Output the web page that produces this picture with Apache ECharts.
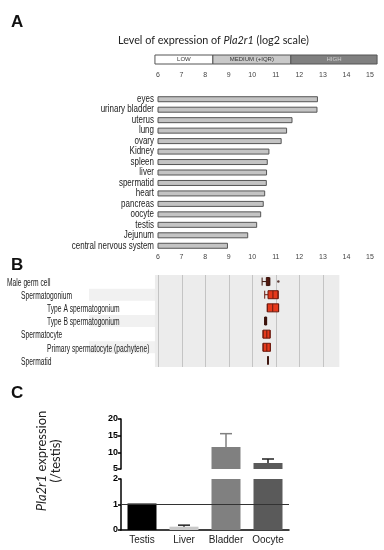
<!DOCTYPE html>
<html><head><meta charset="utf-8">
<script src="https://cdn.jsdelivr.net/npm/echarts@6/dist/echarts.min.js"></script>
<style>html,body{margin:0;padding:0;background:#fff}#c{width:384px;height:550px}</style>
</head><body><div id="c"></div>
<script>
// ---- Panel A data ----
const tissues = ['eyes','urinary bladder','uterus','lung','ovary','Kidney','spleen','liver','spermatid','heart','pancreas','oocyte','testis','Jejunum','central nervous system'];
const tissueLevels = [12.79,12.77,11.71,11.48,11.25,10.73,10.66,10.63,10.62,10.55,10.49,10.38,10.21,9.83,8.97];
const levelTicks = [6,7,8,9,10,11,12,13,14,15];
const levelBandNames = ['LOW','MEDIUM (+IQR)','HIGH'];
const levelBandEdges = [5.87, 8.33, 11.64, 15.3];

// ---- Panel B data ----
const cellTypes = ['Male germ cell','Spermatogonium','Type A spermatogonium','Type B spermatogonium','Spermatocyte','Primary spermatocyte (pachytene)','Spermatid'];
const cellLevel = [0,1,2,2,1,2,1];
const cellBoxes = [
  [10.42,10.60,10.67,10.73,10.75],
  [10.53,10.67,10.88,11.10,11.10],
  [10.64,10.64,10.87,11.12,11.12],
  [10.53,10.53,10.57,10.61,10.61],
  [10.46,10.46,10.62,10.76,10.76],
  [10.46,10.46,10.62,10.77,10.77],
  [10.67,10.67,10.67,10.67,10.67]
];
const cellOutliers = [[11.11, 0]];
const cellDark = [true,false,false,true,false,false,true];
const cellShaded = [false,true,false,true,false,true,false];
const gridValues = [6,7,8,9,10,11,12,13];
const plotBgRange = [5.87, 13.7];

// ---- Panel C data ----
const qpcrSamples = ['Testis','Liver','Bladder','Oocyte'];
const qpcrMean = [1.04, 0.13, 11.6, 6.8];
const qpcrUpper = [null, 0.19, 15.6, 8.0];
const qpcrColors = ['#000000','#c9c9c9','#808080','#5a5a5a'];
const qpcrErrColors = ['#000','#222','#808080','#222'];
const topTicks = [5,10,15,20];
const bottomTicks = [0,1,2];
const breakLow = 2, breakHigh = 5;

const chart = echarts.init(document.getElementById('c'), null, {renderer:'canvas'});

function errRender(params, api){
  const x = api.value(0);
  const lo = api.coord([x, api.value(1)]);
  const hi = api.coord([x, api.value(2)]);
  const hw = 6;
  const col = qpcrErrColors[x];
  return {type:'group', children:[
    {type:'line', shape:{x1:lo[0],y1:lo[1],x2:hi[0],y2:hi[1]}, style:{stroke:col, lineWidth:1.5}},
    {type:'line', shape:{x1:hi[0]-hw,y1:hi[1],x2:hi[0]+hw,y2:hi[1]}, style:{stroke:col, lineWidth:1.5}}
  ]};
}

const letterStyle = {fontSize:17, fontWeight:'bold', fontFamily:'Liberation Sans', color:'#111'};
const option = {
  animation:false,
  backgroundColor:'#fff',
  title:[
    {text:'A', left:6, top:9, textStyle:letterStyle},
    {text:'B', left:6, top:252, textStyle:letterStyle},
    {text:'C', left:6, top:380, textStyle:letterStyle},
    {text:'Level of expression of {i|Pla2r1} (log2 scale)', left:113, top:30,
      textStyle:{fontSize:10.8, fontWeight:'normal', fontFamily:'Lato', color:'#222',
        rich:{i:{fontStyle:'italic', fontSize:10.8, fontFamily:'Lato', color:'#222'}}}}
  ],
  grid:[
    {left:158, width:212, top:94, height:157},
    {left:158, width:212, top:275, height:92},
    {left:121, width:168, top:419, height:50},
    {left:121, width:168, top:479, height:51}
  ],
  xAxis:[
    {gridIndex:0, type:'value', min:levelTicks[0], max:levelTicks[levelTicks.length-1], interval:1, position:'top', offset:10,
      axisLine:{lineStyle:{color:'#aaa'}}, axisTick:{length:2, lineStyle:{color:'#777'}},
      axisLabel:{fontSize:7, color:'#444', margin:5, fontFamily:'Liberation Sans'}, splitLine:{show:false}},
    {gridIndex:1, type:'value', min:levelTicks[0], max:levelTicks[levelTicks.length-1], interval:1, position:'top', offset:9,
      axisLine:{lineStyle:{color:'#aaa'}}, axisTick:{length:2, lineStyle:{color:'#777'}},
      axisLabel:{fontSize:7, color:'#444', margin:5, fontFamily:'Liberation Sans'}, splitLine:{show:false}},
    {gridIndex:2, type:'category', data:qpcrSamples, show:false},
    {gridIndex:3, type:'category', data:qpcrSamples,
      axisLine:{lineStyle:{color:'#000', width:1.5}}, axisTick:{show:false},
      axisLabel:{interval:0, fontSize:10, color:'#222', margin:5, fontFamily:'Liberation Sans'}}
  ],
  yAxis:[
    {gridIndex:0, type:'category', data:tissues, inverse:true, axisLine:{show:false}, axisTick:{show:false}, axisLabel:{show:false}},
    {gridIndex:1, type:'category', data:cellTypes, inverse:true, axisLine:{show:false}, axisTick:{show:false}, axisLabel:{show:false}},
    {gridIndex:2, type:'value', min:breakHigh, max:topTicks[topTicks.length-1], interval:5,
      axisLine:{show:true, lineStyle:{color:'#000', width:1.5}}, axisTick:{show:true, length:3, lineStyle:{color:'#000', width:1.5}},
      axisLabel:{fontSize:9, fontWeight:'bold', color:'#000', margin:3, fontFamily:'Liberation Sans'}, splitLine:{show:false}},
    {gridIndex:3, type:'value', min:bottomTicks[0], max:breakLow, interval:1,
      axisLine:{show:true, lineStyle:{color:'#000', width:1.5}}, axisTick:{show:true, length:3, lineStyle:{color:'#000', width:1.5}},
      axisLabel:{fontSize:9, fontWeight:'bold', color:'#000', margin:3, fontFamily:'Liberation Sans'}, splitLine:{show:false}}
  ],
  series:[
    {type:'bar', xAxisIndex:0, yAxisIndex:0, data:tissueLevels, barWidth:6,
      itemStyle:{color:'#c4c4c4', borderColor:'#555', borderWidth:1}},
    {type:'custom', xAxisIndex:1, yAxisIndex:1, z:0, silent:true, clip:false,
      data:[plotBgRange], encode:{x:[0,1]},
      renderItem:(params, api)=>{
        const cs = params.coordSys;
        const x1 = api.coord([api.value(0), 0])[0];
        const x2 = api.coord([api.value(1), 0])[0];
        return {type:'rect', shape:{x:x1, y:cs.y, width:x2-x1, height:cs.height}, style:{fill:'#ececec'}};
      }},
    {type:'custom', xAxisIndex:1, yAxisIndex:1, z:1, silent:true,
      data:gridValues.map(v=>[v]), encode:{x:0},
      renderItem:(params, api)=>{
        const cs = params.coordSys;
        const x = Math.round(api.coord([api.value(0), 0])[0]) + 0.5;
        return {type:'line', shape:{x1:x, y1:cs.y, x2:x, y2:cs.y+cs.height}, style:{stroke:'#c4c4c4', lineWidth:1}};
      }},
    {type:'boxplot', xAxisIndex:1, yAxisIndex:1, z:3, boxWidth:[8,8],
      data:cellBoxes.map((b,i)=>({value:b, itemStyle: cellDark[i] ? {color:'#6a1d12', borderColor:'#3a120b', borderWidth:1} : {color:'#e5391c', borderColor:'#6b1a0e', borderWidth:1}})),
      itemStyle:{color:'#e5391c', borderColor:'#6b1a0e', borderWidth:1}},
    {type:'scatter', xAxisIndex:1, yAxisIndex:1, z:3, data:cellOutliers, symbolSize:2.5, itemStyle:{color:'#3a120b'}},
    {type:'bar', xAxisIndex:2, yAxisIndex:2, barWidth:29,
      data:qpcrMean.map((v,i)=>({value: v>breakHigh ? v : '-', itemStyle:{color:qpcrColors[i]}}))},
    {type:'custom', xAxisIndex:2, yAxisIndex:2, z:3, renderItem:errRender,
      data:qpcrMean.map((v,i)=>[i, v, qpcrUpper[i]]).filter(d=>d[2]!==null && d[1]>breakHigh)},
    {type:'bar', xAxisIndex:3, yAxisIndex:3, barWidth:29, clip:true,
      data:qpcrMean.map((v,i)=>({value:v, itemStyle:{color:qpcrColors[i]}})),
      markLine:{silent:true, symbol:'none', label:{show:false}, lineStyle:{color:'#333', width:1, type:'solid'},
        data:[{yAxis:1}]}},
    {type:'custom', xAxisIndex:3, yAxisIndex:3, z:3, renderItem:errRender,
      data:qpcrMean.map((v,i)=>[i, v, qpcrUpper[i]]).filter(d=>d[2]!==null && d[1]<breakLow)}
  ],
  graphic:[
    {type:'text', x:49, y:461, rotation:Math.PI/2,
      style:{text:'{i|Pla2r1} expression\n(/testis)', align:'center', verticalAlign:'middle',
        fontSize:13, fontFamily:'Lato', fill:'#222', lineHeight:14,
        rich:{i:{fontStyle:'italic', fontSize:13, fontFamily:'Lato', fill:'#222', lineHeight:14}}}}
  ]
};
chart.setOption(option);

const extra = [];
const bandFills = ['#ffffff','#c9c9c9','#808080'];
const bandText = ['#333','#333','#cfcfcf'];
for (let i=0;i<levelBandNames.length;i++){
  const x1 = chart.convertToPixel({xAxisIndex:0}, levelBandEdges[i]);
  const x2 = chart.convertToPixel({xAxisIndex:0}, levelBandEdges[i+1]);
  extra.push({type:'rect', shape:{x:x1, y:55, width:x2-x1, height:9}, style:{fill:bandFills[i], stroke:'#555', lineWidth:1}});
  extra.push({type:'text', x:(x1+x2)/2, y:59.5, style:{text:levelBandNames[i], align:'center', verticalAlign:'middle', fontSize:6, fontFamily:'Liberation Sans', fill:bandText[i]}});
}
tissues.forEach((t,i)=>{
  const y = chart.convertToPixel({yAxisIndex:0}, i);
  extra.push({type:'text', x:154, y:y, scaleX:0.8, silent:true,
    style:{text:t, align:'right', verticalAlign:'middle', fontSize:10, fontFamily:'Liberation Sans', fill:'#222'}});
});
const indentPx = [7, 21, 47];
cellTypes.forEach((t,i)=>{
  const y = chart.convertToPixel({yAxisIndex:1}, i);
  if (cellShaded[i]) {
    extra.push({type:'rect', z:-1, silent:true, shape:{x:89, y:y-6, width:66, height:12}, style:{fill:'#f1f1f1'}});
  }
  extra.push({type:'text', x:indentPx[cellLevel[i]], y:y+1.5, scaleX:0.67, silent:true,
    style:{text:t, align:'left', verticalAlign:'middle', fontSize:10, fontFamily:'Liberation Sans', fill:'#222'}});
});
chart.setOption({graphic: option.graphic.concat(extra)});
</script></body></html>
